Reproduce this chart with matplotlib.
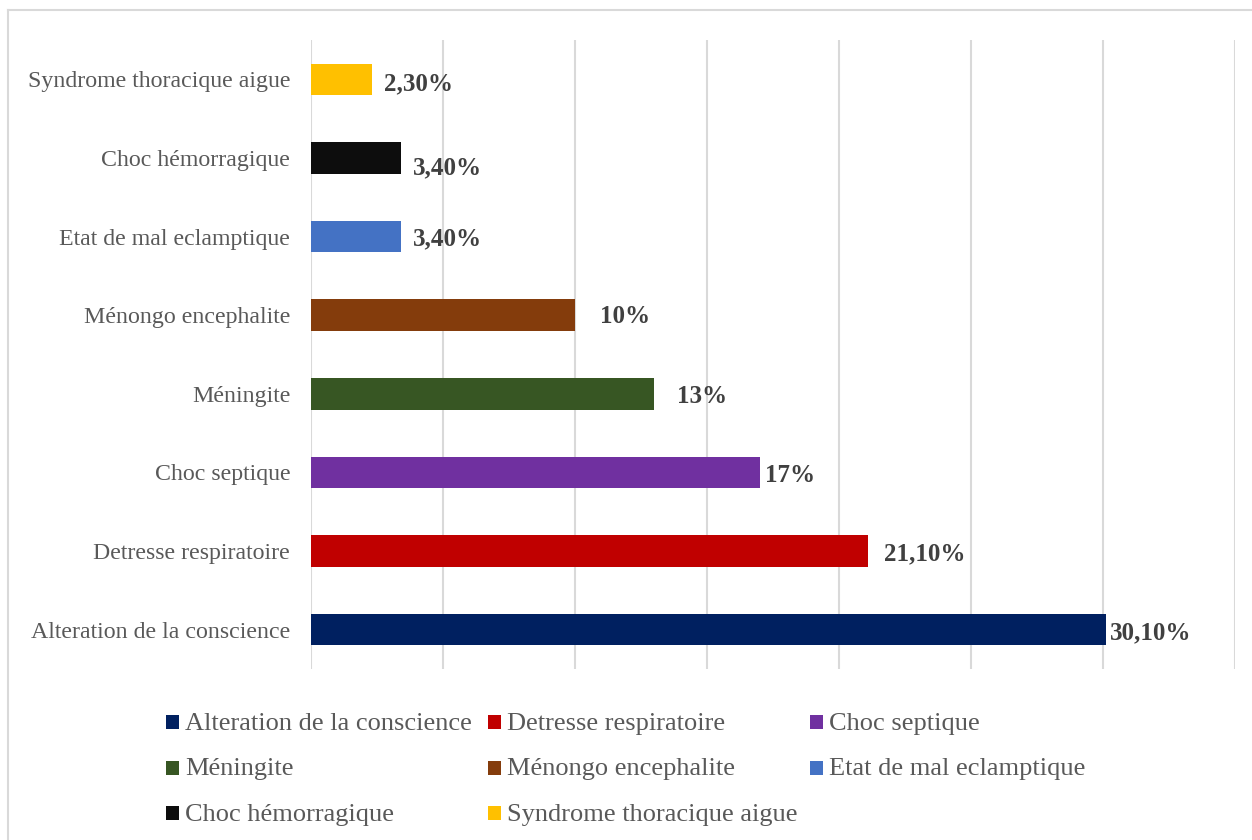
import matplotlib
matplotlib.use("Agg")
import matplotlib.pyplot as plt
from matplotlib.patches import Rectangle
from matplotlib.lines import Line2D
from matplotlib.transforms import offset_copy

plt.rcParams["font.family"] = ["Liberation Serif", "DejaVu Serif"]

categories = [
    "Alteration de la conscience",
    "Detresse respiratoire",
    "Choc septique",
    "Méningite",
    "Ménongo encephalite",
    "Etat de mal eclamptique",
    "Choc hémorragique",
    "Syndrome thoracique aigue",
]
values = [30.1, 21.1, 17.0, 13.0, 10.0, 3.4, 3.4, 2.3]
value_labels = ["30,10%", "21,10%", "17%", "13%", "10%", "3,40%", "3,40%", "2,30%"]
colors = ["#002060", "#C00000", "#7030A0", "#375623",
          "#843C0C", "#4472C4", "#0D0D0D", "#FFC000"]

# label placement nudges in pixels (dx, dy)
label_offsets = [(4, -3), (16, -3), (5, -3), (23, -3), (25, -1), (12, -2), (12, -10), (12, -4)]

W, H = 1252, 840
fig = plt.figure(figsize=(W / 100, H / 100), dpi=100)
fig.patch.set_facecolor("white")

ax = fig.add_axes([311 / W, 1 - 669 / H, (1235 - 311) / W, (669 - 40) / H])
y = list(range(len(categories)))
ax.barh(y, values, height=0.4, color=colors, zorder=3)
ax.set_xlim(0, 35)
ax.set_ylim(-0.5, len(categories) - 0.5)
ax.set_xticks(range(0, 36, 5))
ax.set_xticklabels([])
ax.tick_params(axis="x", length=0)
ax.tick_params(axis="y", length=0, pad=15)
ax.set_yticks(y)
ax.set_yticklabels(categories, fontsize=17.2, color="#595959")
ax.grid(axis="x", color="#d9d9d9", linewidth=1.5, zorder=0)
for s in ax.spines.values():
    s.set_visible(False)

for yi, v, lab, (dx, dy) in zip(y, values, value_labels, label_offsets):
    tr = offset_copy(ax.transData, fig=fig, x=dx, y=dy, units="dots")
    ax.text(v, yi, lab, transform=tr, ha="left", va="center",
            fontsize=18, fontweight="bold", color="#404040")

# outer frame
fig.add_artist(Line2D([8 / W, 1], [1 - 10 / H, 1 - 10 / H], color="#d9d9d9", lw=1.5))
fig.add_artist(Line2D([8 / W, 8 / W], [1 - 10 / H, 0], color="#d9d9d9", lw=1.5))

# legend, filled row by row in three columns
for k, (name, col) in enumerate(zip(categories, colors)):
    r, c = divmod(k, 3)
    x0 = 166 + 322 * c
    yc = 722 + 45.5 * r
    fig.add_artist(Rectangle((x0 / W, 1 - (yc + 7) / H), 13 / W, 14 / H,
                             transform=fig.transFigure, facecolor=col,
                             edgecolor="none"))
    fig.text((x0 + 19) / W, 1 - (yc + 2) / H, name, ha="left", va="center",
             fontsize=19, color="#595959")

fig.savefig("out.png", dpi=100)
